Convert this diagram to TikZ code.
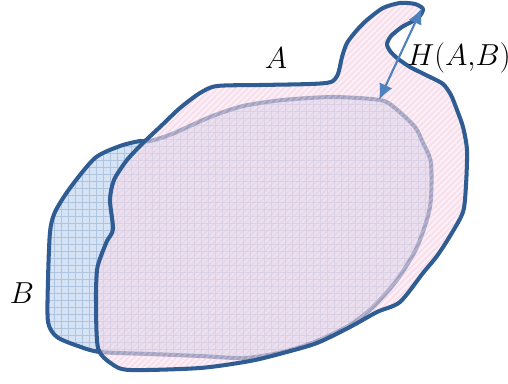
\documentclass[tikz,border=0pt]{standalone}
\usepackage{tikz}
\usetikzlibrary{arrows.meta, positioning}

\definecolor{edgeblue}{HTML}{2F5D93}
\definecolor{arrowblue}{HTML}{4F81BD}
\definecolor{bfill}{HTML}{D6E3F5}
\definecolor{bgrid}{HTML}{AFC4DF}
\definecolor{afill}{HTML}{F7E3EE}
\definecolor{ahatch}{HTML}{EFC3DA}

\newcommand{\outlineA}{plot[smooth cycle, tension=0.45] coordinates {
  (143,143) (160,127) (180,108) (200,93) (217,86) (260,85) (310,84) (331,82)
  (338,74) (342,57) (347,43) (357,30) (367,20) (383,8) (400,3) (415,4) (423,9)
  (418,18) (402,27) (391,36) (387,44) (390,51) (397,58) (410,67) (430,77)
  (443,84) (451,95) (457,110) (463,127) (467,150) (466,185) (463,212) (450,236)
  (437,256) (423,273) (400,302) (377,312) (350,327) (317,343) (283,353)
  (250,361) (200,368) (130,370) (112,364) (98,348) (96,300) (97,270) (101,256)
  (107,241) (113,229) (110,200) (114,180) (127,160)}}
\newcommand{\outlineB}{plot[smooth cycle, tension=0.45] coordinates {
  (140,141) (120,146) (95,158) (70,188) (55,212) (50,232) (48,280) (48,322)
  (57,337) (78,346) (100,352) (150,354) (200,356) (245,358) (283,352) (317,341)
  (350,325) (373,307) (397,280) (417,247) (430,207) (431,163) (423,143)
  (415,127) (395,108) (380,100) (333,97) (283,100) (243,106) (210,117)
  (172,134) (150,141)}}

\begin{document}
\begin{tikzpicture}[
  x=0.02cm, y=-0.02cm,
  border/.style={draw=edgeblue, line width=2.3pt, line join=round},
  gridline/.style={bgrid, line width=0.4pt},
  hatchline/.style={ahatch, line width=1pt, opacity=0.4},
  lbl/.style={font=\fontsize{18}{20}\selectfont, inner sep=0pt},
  hd/.style={{Latex[length=3.2mm, width=2.8mm]}-{Latex[length=3.2mm, width=2.8mm]}, arrowblue, line width=1.2pt}
]
\useasboundingbox (0,0) rectangle (508,383);
\fill[bfill] \outlineB;
\begin{scope}
  \clip \outlineB;
  \foreach \gx in {40,47,...,440} \draw[gridline] (\gx,80) -- (\gx,380);
  \foreach \gy in {90,97,...,380} \draw[gridline] (40,\gy) -- (440,\gy);
\end{scope}
\draw[border] \outlineB;
\fill[afill, fill opacity=0.55] \outlineA;
\begin{scope}
  \clip \outlineA;
  \foreach \k in {-400,-394,...,500} \draw[hatchline] (\k,400) -- ++(400,-400);
\end{scope}
\draw[border] \outlineA;
\coordinate (tip) at (422,8);
\coordinate (foot) at (379,100);
\draw[hd] (tip) -- (foot);
\node[lbl] (labA) at (276,58) {$A$};
\node[lbl] (labB) at (22,293) {$B$};
\node[lbl, font=\fontsize{16}{18}\selectfont] (labH) at (459,58) {$H(A{,}B)$};
\end{tikzpicture}
\end{document}
